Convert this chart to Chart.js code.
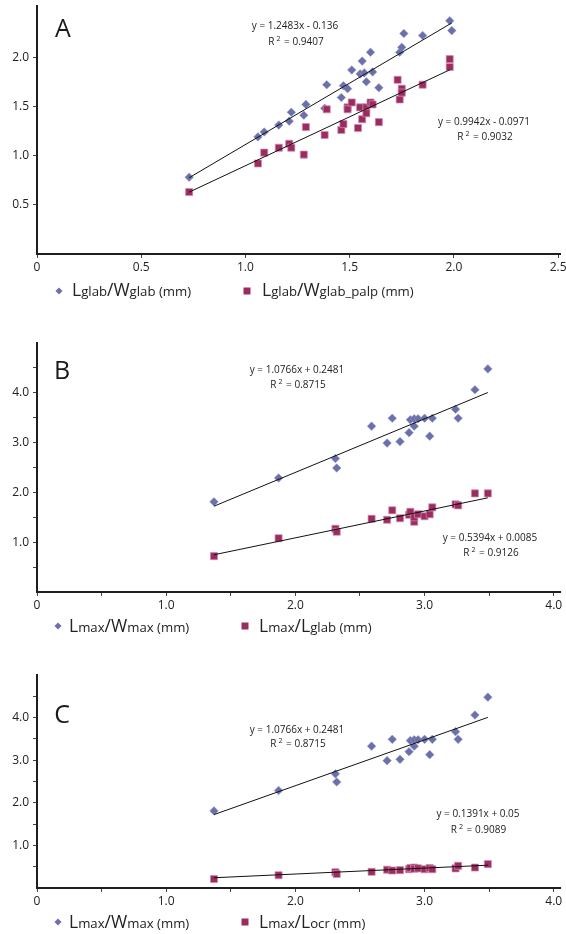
<!DOCTYPE html>
<html>
<head>
<meta charset="utf-8">
<script src="https://cdn.jsdelivr.net/npm/chart.js@4.4.1/dist/chart.umd.min.js"></script>
<style>
  html, body { margin:0; padding:0; background:#fff; }
  #page { position:relative; width:566px; height:934px; overflow:hidden; font-family:"Open Sans", sans-serif; color:#222; }
  canvas { position:absolute; left:0; }
  .eq { position:absolute; font-size:10px; line-height:12px; white-space:nowrap; transform:translateX(-50%); color:#222; }
  .eq sup { font-size:7px; vertical-align:4px; line-height:0; margin-left:2px; margin-right:1px; }
  .letter { position:absolute; font-size:25px; line-height:30px; transform:translate(-50%,-50%); color:#1a1a1a; }
  .leg { position:absolute; white-space:nowrap; display:flex; align-items:baseline; height:20px; line-height:20px; color:#222; }
  .leg .b { font-size:17.5px; }
  .leg .s { font-size:13.2px; }
  .mk { position:absolute; }
  .dia { width:5px; height:5px; background:#6b70ab; transform:translate(-50%,-50%) rotate(45deg); }
  .sq { width:7px; height:7px; background:#9a2c60; transform:translate(-50%,-50%); }
</style>
</head>
<body>
<div id="page">
  <canvas id="cA" width="566" height="280" style="top:0px;width:566px;height:280px"></canvas>
  <canvas id="cB" width="566" height="300" style="top:320px;width:566px;height:300px"></canvas>
  <canvas id="cC" width="566" height="265" style="top:650px;width:566px;height:265px"></canvas>

  <div class="letter" style="left:63px;top:27px">A</div>
  <div class="letter" style="left:62px;top:369px">B</div>
  <div class="letter" style="left:62px;top:713px">C</div>

  <div class="eq" style="left:295px;top:18.5px">y = 1.2483x - 0.136</div>
  <div class="eq" style="left:296px;top:34.5px">R<sup>2</sup> = 0.9407</div>
  <div class="eq" style="left:484px;top:115px">y = 0.9942x - 0.0971</div>
  <div class="eq" style="left:485px;top:130px">R<sup>2</sup> = 0.9032</div>

  <div class="eq" style="left:297px;top:362.5px">y = 1.0766x + 0.2481</div>
  <div class="eq" style="left:298px;top:377.5px">R<sup>2</sup> = 0.8715</div>
  <div class="eq" style="left:490px;top:531px">y = 0.5394x + 0.0085</div>
  <div class="eq" style="left:491px;top:545.5px">R<sup>2</sup> = 0.9126</div>

  <div class="eq" style="left:297px;top:722.5px">y = 1.0766x + 0.2481</div>
  <div class="eq" style="left:298px;top:737px">R<sup>2</sup> = 0.8715</div>
  <div class="eq" style="left:478px;top:806.5px">y = 0.1391x + 0.05</div>
  <div class="eq" style="left:478.5px;top:823px">R<sup>2</sup> = 0.9089</div>

  <div class="mk dia" style="left:59px;top:290.5px"></div>
  <div class="leg" style="left:72px;top:279px"><span class="b">L</span><span class="s">glab</span><span class="b">/W</span><span class="s">glab&nbsp;(mm)</span></div>
  <div class="mk sq" style="left:247px;top:290.5px"></div>
  <div class="leg" style="left:262px;top:279px"><span class="b">L</span><span class="s">glab</span><span class="b">/W</span><span class="s">glab_palp&nbsp;(mm)</span></div>

  <div class="mk dia" style="left:58px;top:626px"></div>
  <div class="leg" style="left:69px;top:614.5px"><span class="b">L</span><span class="s">max</span><span class="b">/W</span><span class="s">max&nbsp;(mm)</span></div>
  <div class="mk sq" style="left:245px;top:626px"></div>
  <div class="leg" style="left:259px;top:614.5px"><span class="b">L</span><span class="s">max</span><span class="b">/L</span><span class="s">glab&nbsp;(mm)</span></div>

  <div class="mk dia" style="left:58px;top:922px"></div>
  <div class="leg" style="left:69px;top:910.5px"><span class="b">L</span><span class="s">max</span><span class="b">/W</span><span class="s">max&nbsp;(mm)</span></div>
  <div class="mk sq" style="left:245px;top:922px"></div>
  <div class="leg" style="left:259px;top:910.5px"><span class="b">L</span><span class="s">max</span><span class="b">/L</span><span class="s">ocr&nbsp;(mm)</span></div>
</div>

<script>
// ---------- Panel A data ----------
const xA_glab = [0.73,1.06,1.09,1.16,1.22,1.21,1.29,1.28,1.39,1.38,1.46,1.47,1.49,1.51,1.55,1.56,1.57,1.58,1.60,1.61,1.64,1.74,1.75,1.76,1.85,1.98,1.99];
const yA_glab = [0.78,1.19,1.24,1.31,1.44,1.35,1.52,1.41,1.72,1.48,1.59,1.71,1.68,1.87,1.83,1.96,1.84,1.75,2.05,1.85,1.69,2.05,2.10,2.24,2.22,2.37,2.27];
const xA_palp = [0.73,1.06,1.09,1.16,1.21,1.22,1.28,1.29,1.38,1.39,1.46,1.47,1.49,1.49,1.51,1.54,1.55,1.56,1.58,1.58,1.60,1.61,1.64,1.73,1.74,1.75,1.75,1.85,1.98,1.98];
const yA_palp = [0.63,0.92,1.03,1.08,1.12,1.08,1.01,1.29,1.21,1.47,1.26,1.32,1.49,1.47,1.54,1.28,1.49,1.37,1.49,1.43,1.54,1.52,1.34,1.77,1.57,1.68,1.64,1.72,1.90,1.98];
const fitA_glab = { slope: 1.2483, intercept: -0.136 };
const fitA_palp = { slope: 0.9942, intercept: -0.0971 };

// ---------- Panels B & C data (x = Lmax) ----------
const xLmax  = [1.37,1.87,2.31,2.32,2.59,2.71,2.75,2.81,2.88,2.89,2.92,2.92,2.95,3.00,3.04,3.06,3.24,3.26,3.39,3.49];
const yWmax  = [1.81,2.29,2.68,2.49,3.33,2.99,3.49,3.02,3.20,3.46,3.33,3.48,3.48,3.49,3.13,3.49,3.67,3.49,4.06,4.48];
const yLglab = [0.72,1.08,1.27,1.21,1.47,1.45,1.64,1.48,1.55,1.61,1.41,1.50,1.56,1.52,1.56,1.70,1.76,1.74,1.98,1.98];
const yLocr  = [0.21,0.30,0.37,0.33,0.38,0.43,0.41,0.42,0.44,0.47,0.48,0.45,0.46,0.44,0.47,0.44,0.46,0.52,0.48,0.56];
const fitWmax  = { slope: 1.0766, intercept: 0.2481 };
const fitLglab = { slope: 0.5394, intercept: 0.0085 };
const fitLocr  = { slope: 0.1391, intercept: 0.05 };

// ---------- Axis tick settings ----------
const xTicksA = [0, 0.5, 1.0, 1.5, 2.0, 2.5];
const yTicksA = [0.5, 1.0, 1.5, 2.0];
const xTicksBC = [0, 0.5, 1.0, 1.5, 2.0, 2.5, 3.0, 3.5, 4.0];
const yTicksBC = [0.5, 1.0, 1.5, 2.0, 2.5, 3.0, 3.5, 4.0, 4.5];

const BLUE = '#6b70ab';
const RED = '#9a2c60';
const FONT = { family: "'Open Sans', sans-serif", size: 12 };

function pts(xs, ys) { return xs.map((x, i) => ({ x: x, y: ys[i] })); }
function fitLine(xs, fit) {
  const lo = Math.min(...xs), hi = Math.max(...xs);
  return [{ x: lo, y: fit.slope * lo + fit.intercept }, { x: hi, y: fit.slope * hi + fit.intercept }];
}
function diamondSet(data) {
  return { type: 'scatter', data: data, pointStyle: 'rectRot', pointRadius: 4.3,
    backgroundColor: BLUE, borderColor: 'rgba(150,152,200,0.9)', borderWidth: 0.6, order: 2 };
}
function squareSet(data) {
  return { type: 'scatter', data: data, pointStyle: 'rect', pointRadius: 5,
    backgroundColor: RED, borderColor: 'rgba(210,140,175,0.9)', borderWidth: 0.8, order: 1 };
}
function lineSet(data) {
  return { type: 'scatter', data: data, showLine: true, pointRadius: 0, borderColor: '#111',
    borderWidth: 1, fill: false, order: 0 };
}
function fmtX(v) { return v === 0 ? '0' : v.toFixed(1); }

function axes(cfg) {
  const gridCfg = { display: true, drawOnChartArea: false, drawTicks: true, tickLength: 4, color: '#444', lineWidth: 1 };
  const borderCfg = { display: true, color: '#1e1e1e', width: 2 };
  return {
    x: {
      type: 'linear', min: 0, max: cfg.xMax,
      grid: gridCfg, border: borderCfg,
      afterBuildTicks: s => { s.ticks = cfg.xTicks.map(v => ({ value: v })); },
      ticks: { autoSkip: false, maxRotation: 0, padding: 2, color: '#222', font: FONT,
        callback: v => (cfg.xLabel(v)) },
      afterFit: s => { s.height = cfg.xH; s.paddingLeft = 0; s.paddingRight = 0; }
    },
    y: {
      type: 'linear', min: 0, max: cfg.yMax,
      grid: gridCfg, border: borderCfg,
      afterBuildTicks: s => { s.ticks = cfg.yTicks.map(v => ({ value: v })); },
      ticks: { autoSkip: false, padding: 4, color: '#222', font: FONT,
        callback: v => (cfg.yLabel(v)) },
      afterFit: s => { s.width = 37; s.paddingTop = 0; s.paddingBottom = 0; }
    }
  };
}

function make(id, datasets, cfg) {
  new Chart(document.getElementById(id), {
    type: 'scatter',
    data: { datasets: datasets },
    options: {
      responsive: false, animation: false, devicePixelRatio: 1,
      layout: { padding: { top: cfg.top, left: 0, right: 0, bottom: 0 } },
      plugins: { legend: { display: false }, tooltip: { enabled: false } },
      scales: axes(cfg)
    }
  });
}

const intOnly = v => Number.isInteger(v) ? (v === 0 ? '0' : v.toFixed(1)) : '';

make('cA', [
  lineSet(fitLine(xA_glab, fitA_glab)),
  lineSet(fitLine(xA_palp, fitA_palp)),
  squareSet(pts(xA_palp, yA_palp)),
  diamondSet(pts(xA_glab, yA_glab))
], { top: 6, xMax: 2.51, yMax: 2.52, xH: 26, xTicks: xTicksA, yTicks: yTicksA,
     xLabel: fmtX, yLabel: v => v.toFixed(1) });

make('cB', [
  lineSet(fitLine(xLmax, fitWmax)),
  lineSet(fitLine(xLmax, fitLglab)),
  squareSet(pts(xLmax, yLglab)),
  diamondSet(pts(xLmax, yWmax))
], { top: 23, xMax: 4.05, yMax: 5.0, xH: 28, xTicks: xTicksBC, yTicks: yTicksBC,
     xLabel: intOnly, yLabel: intOnly });

make('cC', [
  lineSet(fitLine(xLmax, fitWmax)),
  lineSet(fitLine(xLmax, fitLocr)),
  squareSet(pts(xLmax, yLocr)),
  diamondSet(pts(xLmax, yWmax))
], { top: 25, xMax: 4.05, yMax: 5.0, xH: 27, xTicks: xTicksBC, yTicks: yTicksBC,
     xLabel: intOnly, yLabel: intOnly });
</script>
</body>
</html>
